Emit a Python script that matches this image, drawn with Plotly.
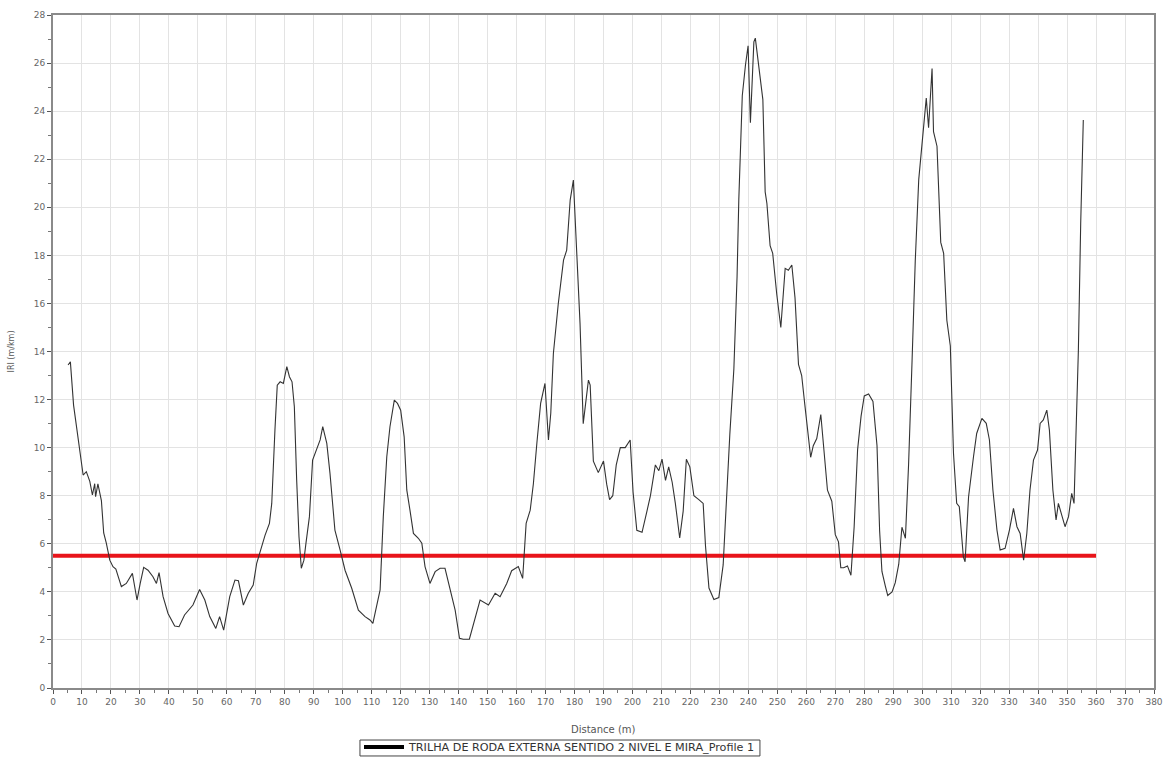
import plotly.graph_objects as go

# IRI profile along the wheel track (distance in m, IRI in m/km)
distance_m = [
    5.2, 6.0, 7.1, 9.0, 10.4, 11.5, 12.7, 13.6, 14.4, 14.7, 15.5, 16.7, 17.5, 18.4,
    19.6, 20.7, 21.7, 23.6, 25.3, 27.4, 29.0, 30.1, 31.3, 32.8, 34.5, 35.7, 36.6,
    38.0, 39.7, 42.0, 43.5, 45.4, 48.3, 50.6, 52.4, 54.1, 56.2, 57.5, 58.9, 61.0,
    62.8, 64.0, 65.7, 67.4, 69.1, 70.3, 72.0, 73.2, 74.7, 75.5, 76.6, 77.4, 78.4,
    79.5, 80.7, 81.6, 82.5, 83.3, 84.1, 84.9, 85.7, 86.6, 87.3, 88.5, 89.6, 91.0,
    92.2, 93.1, 94.5, 95.6, 97.3, 99.1, 100.8, 103.1, 105.4, 107.7, 109.4, 110.4,
    111.7, 112.9, 114.0, 115.2, 116.3, 117.8, 118.9, 120.0, 121.2, 122.1, 123.2,
    124.4, 126.1, 127.3, 128.4, 130.1, 131.9, 133.6, 135.3, 137.0, 138.8, 140.3,
    141.6, 143.7, 145.7, 147.4, 150.3, 152.6, 154.3, 156.6, 158.3, 160.6, 162.1,
    163.3, 164.7, 165.8, 167.0, 168.3, 169.8, 171.0, 171.8, 172.7, 174.4, 176.2,
    177.3, 178.5, 179.6, 180.8, 181.9, 183.0, 184.8, 185.4, 186.5, 188.2, 190.0,
    191.1, 192.1, 193.2, 194.4, 195.8, 197.5, 199.2, 200.2, 201.5, 203.3, 205.0,
    206.2, 207.9, 209.1, 210.2, 211.4, 212.5, 213.7, 214.8, 216.3, 217.5, 218.6,
    219.8, 221.2, 222.9, 224.4, 225.2, 226.4, 228.1, 229.8, 231.3, 232.7, 233.6,
    235.0, 236.1, 236.7, 237.9, 239.0, 239.9, 240.7, 241.9, 242.4, 244.1, 245.0,
    245.8, 246.4, 247.5, 248.4, 249.8, 251.2, 252.7, 253.8, 255.0, 256.1, 257.3,
    258.4, 259.5, 260.7, 261.5, 262.4, 263.6, 265.0, 265.9, 267.3, 268.8, 270.0,
    271.1, 271.9, 272.9, 274.2, 275.4, 276.5, 277.7, 278.9, 280.0, 281.5, 283.0,
    284.4, 285.3, 286.1, 287.3, 288.1, 289.6, 290.7, 291.9, 293.0, 294.2, 295.3,
    296.5, 297.6, 298.8, 300.3, 301.4, 302.2, 303.4, 303.9, 305.1, 306.4, 307.4,
    308.5, 309.7, 310.8, 311.9, 312.8, 314.2, 314.8, 316.0, 317.7, 318.8, 320.6,
    322.1, 323.2, 324.4, 325.8, 326.9, 328.6, 330.1, 331.5, 332.7, 333.8, 335.0,
    336.1, 337.2, 338.4, 339.8, 340.7, 341.8, 343.0, 343.9, 345.1, 346.2, 347.0,
    348.2, 349.3, 350.5, 351.6, 352.4, 353.1, 353.9, 354.7, 355.6,
]
iri_m_km = [
    13.44, 13.57, 11.77, 10.1, 8.86, 9.0, 8.6, 8.03, 8.5, 7.96, 8.49, 7.8, 6.45, 6.03,
    5.32, 5.05, 4.95, 4.22, 4.35, 4.77, 3.66, 4.35, 5.02, 4.9, 4.63, 4.35, 4.8,
    3.8, 3.1, 2.58, 2.55, 3.04, 3.45, 4.1, 3.66, 2.97, 2.48, 2.97, 2.41, 3.8,
    4.49, 4.46, 3.45, 3.94, 4.28, 5.19, 5.88, 6.36, 6.85, 7.68, 10.73, 12.6, 12.74,
    12.67, 13.37, 12.95, 12.74, 11.7, 8.65, 6.29, 4.98, 5.32, 6.02, 7.13, 9.48, 9.9,
    10.32, 10.87, 10.18, 8.93, 6.57, 5.74, 4.9, 4.15, 3.24, 2.97, 2.83, 2.69,
    3.38, 4.08, 7.13, 9.62, 10.87, 11.98, 11.84, 11.56, 10.45, 8.24, 7.4,
    6.43, 6.23, 6.02, 5.05, 4.35, 4.84, 4.98, 4.98, 4.08, 3.24, 2.07,
    2.03, 2.03, 2.97, 3.66, 3.45, 3.94, 3.8, 4.35, 4.88, 5.05, 4.56,
    6.85, 7.4, 8.5, 10.18, 11.84, 12.67, 10.32, 11.43, 13.92, 16.0, 17.8,
    18.22, 20.3, 21.13, 18.22, 15.17, 11.0, 12.81, 12.6, 9.44, 8.96, 9.44,
    8.48, 7.84, 8.0, 9.28, 10.0, 10.0, 10.32, 8.16, 6.56, 6.48, 7.36,
    8.0, 9.28, 9.04, 9.52, 8.64, 9.2, 8.56, 7.68, 6.24, 7.36, 9.52,
    9.2, 8.0, 7.84, 7.68, 5.92, 4.16, 3.68, 3.76, 5.12, 8.64, 10.56,
    13.28, 17.12, 20.32, 24.64, 25.92, 26.72, 23.52, 26.88, 27.04, 25.2, 24.48,
    20.64, 20.16, 18.4, 18.08, 16.38, 15.0, 17.46, 17.38, 17.6, 16.23, 13.46,
    13.0, 11.77, 10.38, 9.6, 10.08, 10.38, 11.38, 10.08, 8.23, 7.77, 6.38,
    6.08, 5.0, 5.0, 5.08, 4.69, 6.69, 9.92, 11.31, 12.15, 12.23, 11.92,
    10.08, 6.54, 4.85, 4.23, 3.85, 4.0, 4.38, 5.15, 6.69, 6.23, 9.31,
    13.62, 17.77, 21.15, 23.0, 24.54, 23.31, 25.77, 23.15, 22.54, 18.54, 18.08,
    15.3, 14.23, 9.76, 7.68, 7.54, 5.46, 5.25, 7.96, 9.62, 10.59, 11.22,
    11.01, 10.32, 8.24, 6.57, 5.74, 5.81, 6.57, 7.47, 6.71, 6.43, 5.32,
    6.43, 8.24, 9.48, 9.9, 11.01, 11.15, 11.56, 10.73, 8.24, 6.99, 7.68,
    7.13, 6.71, 7.13, 8.1, 7.68, 10.32, 14.06, 19.33, 23.63,
]

# Reference limit line
limit_x = [0, 360]
limit_y = [5.5, 5.5]

series_name = "TRILHA DE RODA EXTERNA SENTIDO 2 NIVEL E MIRA_Profile 1"
x_title = "Distance (m)"
y_title = "IRI (m/km)"

fig = go.Figure()
fig.add_trace(go.Scatter(
    x=limit_x, y=limit_y, mode="lines",
    line=dict(color="#e8141a", width=4), showlegend=False, hoverinfo="skip",
))
fig.add_trace(go.Scatter(
    x=distance_m, y=iri_m_km, mode="lines",
    line=dict(color="#333333", width=1.1), name=series_name, showlegend=False,
))
# legend entry with a heavy line sample
fig.add_trace(go.Scatter(
    x=[None], y=[None], mode="lines",
    line=dict(color="black", width=4), name=series_name, showlegend=True,
))

axis_font = dict(family="DejaVu Sans", size=9, color="#666666")

fig.update_layout(
    width=1175, height=758,
    margin=dict(l=53, r=21, t=15, b=70, autoexpand=False),
    paper_bgcolor="white", plot_bgcolor="white",
    font=dict(family="DejaVu Sans", size=9, color="#555555"),
    legend=dict(
        orientation="h", yref="container", xref="container",
        x=560 / 1175, y=11 / 758, xanchor="center", yanchor="middle",
        borderwidth=0, bgcolor="rgba(0,0,0,0)",
        font=dict(family="DejaVu Sans", size=11.2, color="#333333"),
        itemwidth=40, tracegroupgap=0,
    ),
    # x-axis title placed below the tick labels
    annotations=[dict(
        text=x_title, xref="paper", yref="paper", x=0.5, y=-0.061,
        xanchor="center", yanchor="middle", showarrow=False,
        font=dict(family="DejaVu Sans", size=10, color="#555555"),
    )],
    # thin frame around the legend entry
    shapes=[dict(
        type="rect", xref="paper", yref="paper",
        x0=0.2788, x1=0.6421, y0=-0.1010, y1=-0.0773,
        line=dict(color="#444444", width=1), fillcolor="white", layer="below",
    )],
)
fig.update_xaxes(
    range=[0, 380], dtick=10, tick0=0, automargin=False,
    showline=True, linecolor="#8a8a8a", linewidth=2, mirror=True,
    showgrid=True, gridcolor="#e3e3e3", gridwidth=1,
    ticks="outside", ticklen=4, tickcolor="#555555",
    minor=dict(dtick=5, ticks="outside", ticklen=3, tickcolor="#777777", showgrid=False),
    tickfont=axis_font, zeroline=False,
)
fig.update_yaxes(
    range=[0, 28], dtick=2, tick0=0, automargin=False,
    showline=True, linecolor="#8a8a8a", linewidth=2, mirror=True,
    showgrid=True, gridcolor="#e3e3e3", gridwidth=1,
    ticks="outside", ticklen=4, tickcolor="#555555",
    minor=dict(dtick=1, ticks="outside", ticklen=3, tickcolor="#777777", showgrid=False),
    tickfont=axis_font, zeroline=False,
    title=dict(text=y_title, font=dict(family="DejaVu Sans", size=8, color="#555555"), standoff=18),
)

fig.write_html("out.html")
